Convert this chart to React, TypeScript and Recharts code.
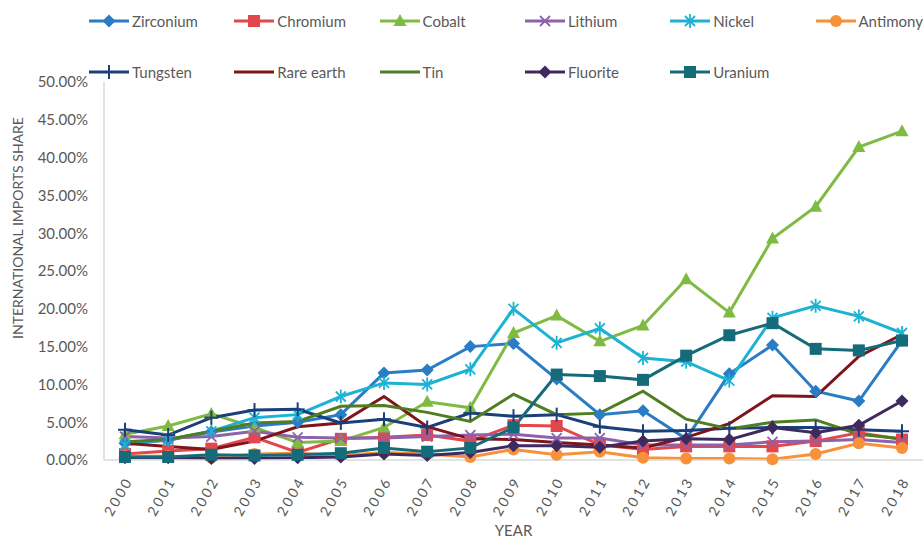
import { LineChart, Line, XAxis, YAxis, Legend } from "recharts";

const years = [
  "2000", "2001", "2002", "2003", "2004", "2005", "2006", "2007", "2008", "2009",
  "2010", "2011", "2012", "2013", "2014", "2015", "2016", "2017", "2018",
];

// import shares, in percent
const zirconium = [2.2, 2.6, 3.7, 4.5, 5.0, 6.0, 11.5, 11.9, 15.0, 15.4, 10.7, 6.0, 6.5, 2.8, 11.4, 15.2, 9.1, 7.8, 15.8];
const chromium = [0.8, 1.2, 1.5, 3.0, 1.0, 2.8, 3.0, 3.3, 2.5, 4.6, 4.5, 2.0, 1.4, 1.8, 1.8, 1.8, 2.5, 3.6, 2.7];
const cobalt = [3.4, 4.5, 6.1, 4.3, 2.3, 2.5, 4.3, 7.7, 6.9, 16.8, 19.1, 15.7, 17.8, 23.9, 19.5, 29.3, 33.5, 41.4, 43.5];
const lithium = [3.1, 2.9, 3.1, 3.8, 3.0, 2.9, 2.9, 3.1, 3.3, 3.4, 2.9, 2.9, 2.0, 2.0, 2.0, 2.4, 2.5, 2.7, 2.3];
const nickel = [2.0, 2.7, 3.8, 5.6, 6.0, 8.4, 10.2, 10.0, 12.0, 20.0, 15.5, 17.4, 13.5, 13.0, 10.5, 18.8, 20.4, 19.0, 16.8];
const antimony = [0.5, 0.5, 0.3, 0.8, 0.9, 0.6, 1.0, 0.8, 0.4, 1.4, 0.7, 1.1, 0.3, 0.2, 0.2, 0.1, 0.8, 2.2, 1.6];
const tungsten = [4.0, 3.3, 5.6, 6.6, 6.7, 4.9, 5.4, 4.3, 6.2, 5.8, 6.0, 4.4, 3.8, 3.9, 4.2, 4.3, 4.3, 4.0, 3.8];
const rareEarth = [2.2, 1.8, 1.4, 2.5, 4.4, 4.9, 8.4, 4.4, 2.8, 2.7, 2.3, 2.0, 1.6, 3.0, 4.8, 8.5, 8.4, 13.7, 16.6];
const tin = [2.4, 2.7, 3.8, 4.9, 5.1, 7.1, 7.2, 6.3, 5.1, 8.7, 6.0, 6.2, 9.1, 5.4, 4.1, 5.0, 5.3, 3.4, 2.8];
const fluorite = [0.3, 0.3, 0.2, 0.2, 0.3, 0.4, 0.8, 0.6, 1.0, 1.9, 1.9, 1.7, 2.5, 2.8, 2.7, 4.3, 3.6, 4.6, 7.8];
const uranium = [0.4, 0.4, 0.7, 0.6, 0.7, 0.9, 1.6, 1.1, 1.6, 4.3, 11.3, 11.1, 10.6, 13.8, 16.5, 18.1, 14.7, 14.5, 15.8];

const yTicks = [0, 5, 10, 15, 20, 25, 30, 35, 40, 45, 50];

type Shape = "diamond" | "square" | "triangle" | "x" | "star" | "circle" | "plus" | "none";

const series: { name: string; values: number[]; color: string; shape: Shape }[] = [
  { name: "Zirconium", values: zirconium, color: "#2a7cc4", shape: "diamond" },
  { name: "Chromium", values: chromium, color: "#e2474b", shape: "square" },
  { name: "Cobalt", values: cobalt, color: "#7fbb42", shape: "triangle" },
  { name: "Lithium", values: lithium, color: "#8d62ad", shape: "x" },
  { name: "Nickel", values: nickel, color: "#1db2d3", shape: "star" },
  { name: "Antimony", values: antimony, color: "#f7923a", shape: "circle" },
  { name: "Tungsten", values: tungsten, color: "#1b3f78", shape: "plus" },
  { name: "Rare earth", values: rareEarth, color: "#7e1518", shape: "none" },
  { name: "Tin", values: tin, color: "#4f7d21", shape: "none" },
  { name: "Fluorite", values: fluorite, color: "#3f2a60", shape: "diamond" },
  { name: "Uranium", values: uranium, color: "#166b7a", shape: "square" },
];

const rows = years.map((year, i) => {
  const row: Record<string, string | number> = { year };
  series.forEach((s) => (row[s.name] = s.values[i]));
  return row;
});

const FONT = "Lato, 'Open Sans', sans-serif";
const TEXT = "#595959";

function Marker({ cx, cy, shape, color }: { cx: number; cy: number; shape: Shape; color: string }) {
  switch (shape) {
    case "diamond":
      return <polygon points={`${cx},${cy - 6.5} ${cx + 6.5},${cy} ${cx},${cy + 6.5} ${cx - 6.5},${cy}`} fill={color} />;
    case "square":
      return <rect x={cx - 6} y={cy - 6} width={12} height={12} fill={color} />;
    case "triangle":
      return <polygon points={`${cx},${cy - 7} ${cx + 6.5},${cy + 5} ${cx - 6.5},${cy + 5}`} fill={color} />;
    case "circle":
      return <circle cx={cx} cy={cy} r={6} fill={color} />;
    case "x":
      return (
        <g stroke={color} strokeWidth={1.8}>
          <line x1={cx - 5} y1={cy - 5} x2={cx + 5} y2={cy + 5} />
          <line x1={cx - 5} y1={cy + 5} x2={cx + 5} y2={cy - 5} />
        </g>
      );
    case "star":
      return (
        <g stroke={color} strokeWidth={1.8}>
          <line x1={cx - 5} y1={cy - 5} x2={cx + 5} y2={cy + 5} />
          <line x1={cx - 5} y1={cy + 5} x2={cx + 5} y2={cy - 5} />
          <line x1={cx} y1={cy - 7} x2={cx} y2={cy + 7} />
        </g>
      );
    case "plus":
      return (
        <g stroke={color} strokeWidth={2}>
          <line x1={cx - 7} y1={cy} x2={cx + 7} y2={cy} />
          <line x1={cx} y1={cy - 7} x2={cx} y2={cy + 7} />
        </g>
      );
    default:
      return null;
  }
}

function YearTick({ x, y, payload }: any) {
  return (
    <text
      transform={`translate(${x + 4},${y + 10}) rotate(-60)`}
      textAnchor="end"
      dy="0.35em"
      fontSize={14}
      letterSpacing={2.5}
      fill={TEXT}
      fontFamily={FONT}
    >
      {payload.value}
    </text>
  );
}

function SeriesLegend() {
  return (
    <div style={{ position: "relative", width: 923, height: 90, fontFamily: FONT }}>
      {series.map((s, i) => {
        const col = i % 6;
        const row = Math.floor(i / 6);
        return (
          <div
            key={s.name}
            style={{
              position: "absolute",
              left: 88 + col * 145.3,
              top: row === 0 ? 11 : 62,
              display: "flex",
              alignItems: "center",
              whiteSpace: "nowrap",
              fontSize: 15,
              color: TEXT,
            }}
          >
            <svg width={42} height={20}>
              <line x1={1} y1={10} x2={41} y2={10} stroke={s.color} strokeWidth={3} />
              <Marker cx={21} cy={10} shape={s.shape} color={s.color} />
            </svg>
            <span style={{ marginLeft: 2 }}>{s.name}</span>
          </div>
        );
      })}
    </div>
  );
}

export default function App() {
  return (
    <div style={{ position: "fixed", left: 0, top: 0, width: 923, height: 538, background: "#fff", overflow: "hidden" }}>
      <LineChart width={923} height={538} data={rows} margin={{ top: 82, right: 0, bottom: 0, left: 0 }}>
        <Legend
          layout="horizontal"
          verticalAlign="middle"
          align="center"
          wrapperStyle={{ top: 0, left: 0, width: 923 }}
          content={() => <SeriesLegend />}
        />
        <XAxis
          dataKey="year"
          height={78}
          padding={{ left: 21, right: 21 }}
          axisLine={{ stroke: "#d9d9d9", strokeWidth: 1.5 }}
          tickLine={false}
          interval={0}
          tick={<YearTick />}
          label={{ value: "YEAR", position: "insideBottom", offset: 2, fill: TEXT, fontSize: 15, fontFamily: FONT }}
        />
        <YAxis
          width={104}
          domain={[0, 50]}
          ticks={yTicks}
          tickSize={0}
          tickMargin={16}
          axisLine={{ stroke: "#d9d9d9", strokeWidth: 1.5 }}
          tickLine={false}
          tickFormatter={(v: number) => `${v.toFixed(2)}%`}
          tick={{ fontSize: 15, fill: TEXT, fontFamily: FONT }}
          label={{
            content: () => (
              <text
                x={19}
                y={228}
                transform="rotate(-90, 19, 228)"
                textAnchor="middle"
                dominantBaseline="middle"
                fontSize={14}
                fill={TEXT}
                fontFamily={FONT}
              >
                INTERNATIONAL IMPORTS SHARE
              </text>
            ),
          }}
        />
        {series.map((s) => (
          <Line
            key={s.name}
            type="linear"
            dataKey={s.name}
            stroke={s.color}
            strokeWidth={3}
            dot={(p: any) => (
              <g key={`${s.name}-${p.index}`}>
                <Marker cx={p.cx} cy={p.cy} shape={s.shape} color={s.color} />
              </g>
            )}
            activeDot={false}
            isAnimationActive={false}
          />
        ))}
      </LineChart>
    </div>
  );
}
